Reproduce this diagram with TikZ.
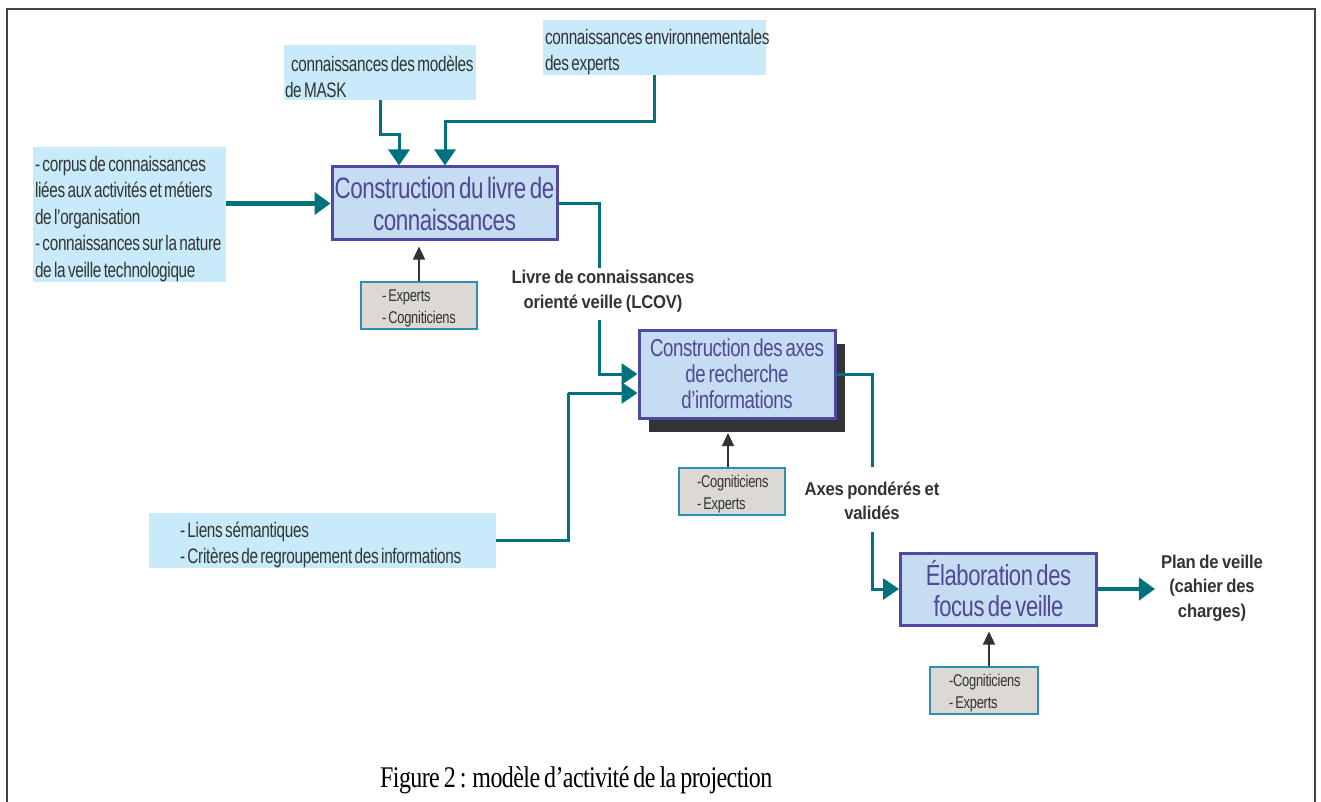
\documentclass[tikz,border=0pt]{standalone}
\usepackage{fontspec}
\setmainfont{Liberation Sans}
\newfontfamily\nsans[FakeStretch=0.76,LetterSpace=-1.5,WordSpace=0.6]{Liberation Sans}
\newfontfamily\isans[FakeStretch=0.73,LetterSpace=-1.5,WordSpace=0.6]{Liberation Sans}
\newfontfamily\bsans[FakeStretch=0.9,LetterSpace=-1,WordSpace=0.8]{Liberation Sans}
\newfontfamily\nserif[FakeStretch=0.8,LetterSpace=-2,WordSpace=0.75]{Liberation Serif}
\usetikzlibrary{arrows.meta,shadows}
\definecolor{flowc}{HTML}{00727D}
\definecolor{inbg}{HTML}{C8EAF9}
\definecolor{mainbg}{HTML}{C6DCF2}
\definecolor{mainbd}{HTML}{4F4AA0}
\definecolor{maintxt}{HTML}{4E4992}
\definecolor{smallbg}{HTML}{DCD8D4}
\definecolor{smallbd}{HTML}{2E8FB4}
\definecolor{txtc}{HTML}{333333}
\definecolor{shadowc}{HTML}{333338}
\definecolor{framec}{HTML}{444444}
\begin{document}
\begin{tikzpicture}[x=1pt,y=-1pt,
  inbox/.style={fill=inbg, draw=none, align=flush left, text=txtc, inner ysep=0pt,
    font=\isans\fontsize{21pt}{26.5pt}\selectfont},
  mainbox/.style={fill=mainbg, draw=mainbd, line width=3pt, align=center, text=maintxt, inner sep=0pt},
  smallbox/.style={fill=smallbg, draw=smallbd, line width=1.8pt, align=flush left, text=txtc, inner ysep=0pt,
    font=\nsans\fontsize{17pt}{21.5pt}\selectfont},
  lbl/.style={align=center, text=txtc, inner sep=0pt, font=\bsans\bfseries\fontsize{18.5pt}{24.5pt}\selectfont},
  flow/.style={draw=flowc, line width=3pt},
  flowa/.style={flow, -{Triangle[length=16pt,width=21pt]}},
  flowb/.style={draw=flowc, line width=4.5pt, -{Triangle[length=16pt,width=22pt]}},
  smallarr/.style={draw=txtc, line width=1.2pt, -{Triangle[length=13pt,width=12pt]}}
]
\useasboundingbox (0,0) rectangle (1321,802);
% frame
\draw[framec, line width=2.5pt] (7,802) -- (7,9) -- (1315,9) -- (1315,802);

% input boxes
\node[inbox, minimum width=192pt, minimum height=55pt, inner xsep=1pt, text width=190pt] (mask) at (380,72.5)
  {\rule{0pt}{24pt}\mbox{\hspace*{6pt}connaissances des modèles}\\\mbox{de MASK}};
\node[inbox, minimum width=223pt, minimum height=55pt, inner xsep=2pt, text width=219pt] (env) at (654.5,47.5)
  {\rule{0pt}{24pt}\mbox{connaissances environnementales}\\\mbox{des experts}};
\node[inbox, minimum width=193pt, minimum height=135pt, inner xsep=2pt, text width=189pt] (corpus) at (129.5,214.5)
  {\rule{0pt}{24pt}\mbox{- corpus de connaissances}\\\mbox{liées aux activités et métiers}\\\mbox{de l’organisation}\\\mbox{- connaissances sur la nature}\\\mbox{de la veille technologique}};
\node[inbox, minimum width=347pt, minimum height=55pt, inner xsep=31pt, text width=285pt] (liens) at (322.5,540.5)
  {\rule{0pt}{24pt}\mbox{- Liens sémantiques}\\\mbox{- Critères de regroupement des informations}};

% main boxes
\node[mainbox, minimum width=225pt, minimum height=73pt, font=\nsans\fontsize{29.5pt}{32pt}\selectfont] (b1) at (444.5,203.5)
  {Construction du livre de\\connaissances};
\node[mainbox, minimum width=196pt, minimum height=88pt, font=\nsans\fontsize{24.5pt}{26pt}\selectfont,
  drop shadow={shadow xshift=10pt, shadow yshift=-14pt, opacity=1, fill=shadowc}] (b2) at (737,374)
  {Construction des axes\\de recherche\\d’informations};
\node[mainbox, minimum width=196pt, minimum height=72pt, font=\nsans\fontsize{29pt}{31pt}\selectfont] (b3) at (998.5,589)
  {Élaboration des\\focus de veille};

% small boxes
\node[smallbox, minimum width=116pt, minimum height=47pt, inner xsep=21pt, text width=74pt] (s1) at (419,305.5)
  {\rule{0pt}{18pt}\mbox{- Experts}\\\mbox{- Cogniticiens}};
\node[smallbox, minimum width=106pt, minimum height=47pt, inner xsep=18pt, text width=70pt] (s2) at (732,491.5)
  {\rule{0pt}{18pt}\mbox{-Cogniticiens}\\\mbox{- Experts}};
\node[smallbox, minimum width=108pt, minimum height=47pt, inner xsep=19pt, text width=70pt] (s3) at (984,690.5)
  {\rule{0pt}{18pt}\mbox{-Cogniticiens}\\\mbox{- Experts}};

% labels
\node[lbl] (lcov) at (603,291) {Livre de connaissances\\orienté veille (LCOV)};
\node[lbl] (axes) at (872,501) {Axes pondérés et\\validés};
\node[lbl] (plan) at (1212,588) {Plan de veille\\(cahier des\\charges)};

% caption
\node[anchor=west, inner sep=0pt, text=black, font=\nserif\fontsize{30pt}{32pt}\selectfont] (cap) at (380,780)
  {Figure 2 : modèle d’activité de la projection};

% connectors
\coordinate (j1) at (399,135);
\coordinate (j2) at (445,122);
\draw[flowa] (mask.south) |- (j1) -- (j1 |- b1.north);
\draw[flowa] (env.south) |- (j2) -- (j2 |- b1.north);
\draw[flowb] (corpus.east |- b1.west) -- (b1.west);

\coordinate (l1) at (599,268);
\coordinate (l2) at (599,320);
\draw[flow] (b1.east) -| (l1);
\draw[flowa] (l2) |- (b2.west);

\coordinate (j4) at (568,393);
\draw[flow] (liens.east) -| (j4);
\draw[flowa] (j4) -- (j4 -| b2.west);

\coordinate (l3) at (872,467);
\coordinate (l4) at (872,532);
\draw[flow] (b2.east) -| (l3);
\draw[flowa] (l4) |- (b3.west);

\draw[flowb, shorten >=6pt] (b3.east) -- (b3.east -| plan.west);

% small arrows
\draw[smallarr, shorten >=5pt] (s1.north) -- (s1.north |- b1.south);
\draw[smallarr, shorten >=13.5pt] ([xshift=-4pt]s2.north) -- ([xshift=-4pt]s2.north |- b2.south);
\draw[smallarr, shorten >=5pt] ([xshift=5pt]s3.north) -- ([xshift=5pt]s3.north |- b3.south);
\end{tikzpicture}
\end{document}
